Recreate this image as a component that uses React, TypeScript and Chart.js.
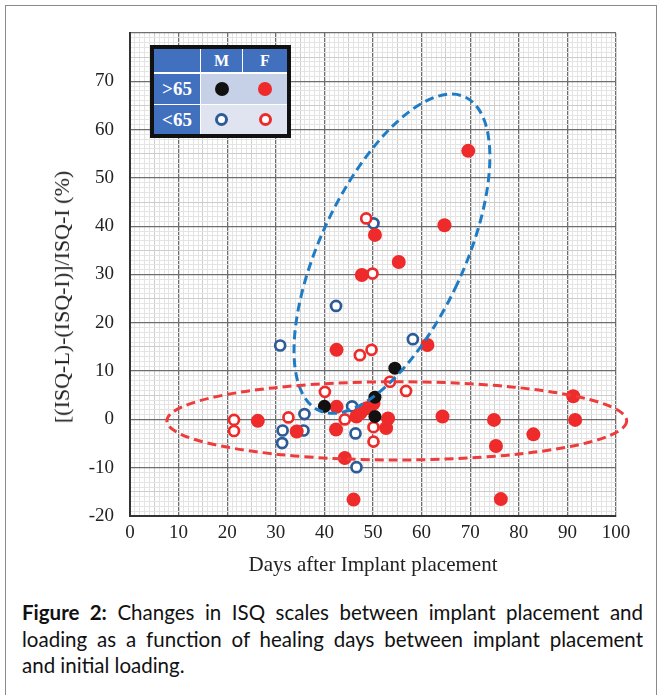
import React, { useEffect, useRef } from 'react';
import { Chart, registerables } from 'chart.js';

Chart.register(...registerables);

// ---- data ----
const femaleOver65X = [69.6, 64.7, 55.3, 50.4, 47.7, 42.5, 61.2, 64.3, 74.9, 75.3, 83.0, 91.2, 91.6, 76.3, 46.0, 44.2, 26.3, 34.3, 42.5, 42.4, 46.6, 47.4, 48.7, 50.1, 53.1, 52.7];
const femaleOver65Y = [55.6, 40.2, 32.6, 38.2, 29.9, 14.4, 15.4, 0.6, -0.1, -5.5, -3.1, 4.8, -0.1, -16.5, -16.6, -8.0, -0.3, -2.5, 2.6, -2.1, 0.6, 1.3, 2.3, 3.3, 0.2, -1.8];

const maleOver65X = [54.5, 50.4, 50.4, 40.0];
const maleOver65Y = [10.6, 4.6, 0.6, 2.7];

const maleUnder65X = [50.1, 42.4, 30.9, 58.2, 45.7, 46.4, 46.6, 35.9, 35.7, 31.4, 31.3];
const maleUnder65Y = [40.6, 23.5, 15.3, 16.6, 2.7, -2.9, -9.9, 1.1, -2.3, -2.3, -4.9];

const femaleUnder65X = [48.6, 49.9, 47.3, 49.7, 53.5, 56.8, 40.1, 44.2, 50.1, 50.1, 32.6, 21.4, 21.4];
const femaleUnder65Y = [41.6, 30.2, 13.3, 14.4, 7.8, 5.9, 5.7, 0.0, -1.6, -4.6, 0.4, -0.1, -2.4];

const xTickLabels = [0, 10, 20, 30, 40, 50, 60, 70, 80, 90, 100];
const yTickLabels = [-20, -10, 0, 10, 20, 30, 40, 50, 60, 70];

// ellipses (data units): centre x, centre y, radius x, radius y, rotation in degrees
const ellipseCx = [53.9, 54.9];
const ellipseCy = [34.3, -0.3];
const ellipseRx = [14.8, 47.3];
const ellipseRy = [35.8, 8.1];
const ellipseAngle = [25, 0];
const ellipseColors = ['#1f7cc4', '#ee3b3b'];

const toPoints = (xs: number[], ys: number[]) => xs.map((x, i) => ({ x, y: ys[i] }));

const RED = '#ee2a2a';
const BLUE = '#2d5b98';

const ellipsePlugin = {
  id: 'ellipses',
  afterDatasetsDraw(chart: any) {
    const { ctx } = chart;
    const xs = chart.scales.x;
    const ys = chart.scales.y;
    const pxX = Math.abs(xs.getPixelForValue(1) - xs.getPixelForValue(0));
    const pxY = Math.abs(ys.getPixelForValue(1) - ys.getPixelForValue(0));
    ellipseCx.forEach((cx, i) => {
      ctx.save();
      ctx.beginPath();
      ctx.ellipse(
        xs.getPixelForValue(cx),
        ys.getPixelForValue(ellipseCy[i]),
        ellipseRx[i] * pxX,
        ellipseRy[i] * pxY,
        (ellipseAngle[i] * Math.PI) / 180,
        0,
        Math.PI * 2
      );
      ctx.setLineDash([9, 5]);
      ctx.lineWidth = 3;
      ctx.strokeStyle = ellipseColors[i];
      ctx.stroke();
      ctx.restore();
    });
  },
};

const gridColor = (ctx: any) => {
  const v = ctx.tick ? Math.round(ctx.tick.value) : 0;
  if (v % 10 === 0) return '#6e6e6e';
  if (v % 5 === 0) return '#cdcdcd';
  return '#e4e4e4';
};
const gridWidth = (ctx: any) => {
  const v = ctx.tick ? Math.round(ctx.tick.value) : 0;
  if (v % 10 === 0) return 1.3;
  return 1;
};

function ScatterChart() {
  const ref = useRef<HTMLCanvasElement | null>(null);
  useEffect(() => {
    if (!ref.current) return;
    const chart = new Chart(ref.current, {
      type: 'scatter',
      data: {
        datasets: [
          {
            label: 'F >65',
            data: toPoints(femaleOver65X, femaleOver65Y),
            backgroundColor: RED,
            borderColor: RED,
            borderWidth: 0,
            pointRadius: 7,
            order: 1,
          },
          {
            label: 'M >65',
            data: toPoints(maleOver65X, maleOver65Y),
            backgroundColor: '#111',
            borderColor: '#111',
            borderWidth: 0,
            pointRadius: 6.5,
            order: 0,
          },
          {
            label: 'F <65',
            data: toPoints(femaleUnder65X, femaleUnder65Y),
            backgroundColor: '#fff',
            borderColor: RED,
            borderWidth: 2.7,
            pointRadius: 5,
            order: 2,
          },
          {
            label: 'M <65',
            data: toPoints(maleUnder65X, maleUnder65Y),
            backgroundColor: '#fff',
            borderColor: BLUE,
            borderWidth: 2.7,
            pointRadius: 5,
            order: 3,
          },
        ],
      },
      options: {
        animation: false,
        responsive: false,
        maintainAspectRatio: false,
        layout: { padding: { left: 0, top: 33, right: 47, bottom: 0 } },
        plugins: { legend: { display: false }, tooltip: { enabled: false } },
        scales: {
          x: {
            type: 'linear',
            min: 0,
            max: 100,
            afterFit: (s: any) => {
              s.height = 74;
            },
            ticks: {
              stepSize: 1,
              autoSkip: false,
              maxRotation: 0,
              minRotation: 0,
              padding: 6,
              color: '#222',
              font: { family: '"Liberation Serif", "DejaVu Serif", serif', size: 19 },
              callback: (v: any) => (xTickLabels.includes(Number(v)) ? String(v) : ''),
            },
            grid: { color: gridColor, lineWidth: gridWidth, drawTicks: false },
            border: { display: true, color: '#333', width: 2 },
            title: {
              display: true,
              text: 'Days after Implant placement',
              color: '#222',
              font: { family: '"Liberation Serif", "DejaVu Serif", serif', size: 21 },
              padding: { top: 0, bottom: 12 },
            },
          },
          y: {
            type: 'linear',
            min: -20,
            max: 80,
            afterFit: (s: any) => {
              s.width = 130;
            },
            ticks: {
              stepSize: 1,
              autoSkip: false,
              padding: 16,
              color: '#222',
              font: { family: '"Liberation Serif", "DejaVu Serif", serif', size: 19 },
              callback: (v: any) => (yTickLabels.includes(Number(v)) ? String(v) : ''),
            },
            grid: { color: gridColor, lineWidth: gridWidth, drawTicks: false },
            border: { display: true, color: '#333', width: 2 },
          },
        },
      },
      plugins: [ellipsePlugin],
    } as any);
    return () => chart.destroy();
  }, []);
  return <canvas ref={ref} width={663} height={590} style={{ position: 'absolute', left: 0, top: 0, width: 663, height: 590 }} />;
}

const serif = '"Liberation Serif", "DejaVu Serif", serif';
const headBlue = '#4170bf';

function Dot({ color, open }: { color: string; open?: boolean }) {
  const size = open ? 13 : 14;
  return (
    <span
      style={{
        display: 'inline-block',
        width: size,
        height: size,
        borderRadius: '50%',
        boxSizing: 'border-box',
        background: open ? '#fff' : color,
        border: open ? `3px solid ${color}` : 'none',
      }}
    />
  );
}

function Cell({ left, top, width, height, bg, children }: any) {
  return (
    <div
      style={{
        position: 'absolute',
        left,
        top,
        width,
        height,
        background: bg,
        display: 'flex',
        alignItems: 'center',
        justifyContent: 'center',
        color: '#fff',
        fontFamily: serif,
        fontWeight: 'bold',
      }}
    >
      {children}
    </div>
  );
}

function LegendTable() {
  return (
    <div
      style={{
        position: 'absolute',
        left: 150,
        top: 45,
        width: 141,
        height: 93,
        border: '4px solid #111',
        boxSizing: 'border-box',
        background: '#fff',
      }}
    >
      <Cell left={0} top={0} width={46} height={23} bg={headBlue} />
      <Cell left={47} top={0} width={41} height={23} bg={headBlue}>
        <span style={{ fontSize: 16 }}>M</span>
      </Cell>
      <Cell left={89} top={0} width={44} height={23} bg={headBlue}>
        <span style={{ fontSize: 16 }}>F</span>
      </Cell>
      <Cell left={0} top={25} width={46} height={30} bg={headBlue}>
        <span style={{ fontSize: 19 }}>&gt;65</span>
      </Cell>
      <Cell left={47} top={25} width={86} height={30} bg="#c6d0e6" />
      <Cell left={47} top={25} width={41} height={30} bg="transparent">
        <Dot color="#111" />
      </Cell>
      <Cell left={89} top={25} width={44} height={30} bg="transparent">
        <Dot color={RED} />
      </Cell>
      <Cell left={0} top={56} width={46} height={29} bg={headBlue}>
        <span style={{ fontSize: 19 }}>&lt;65</span>
      </Cell>
      <Cell left={47} top={56} width={86} height={29} bg="#dfe4f0" />
      <Cell left={47} top={56} width={41} height={29} bg="transparent">
        <Dot color={BLUE} open />
      </Cell>
      <Cell left={89} top={56} width={44} height={29} bg="transparent">
        <Dot color={RED} open />
      </Cell>
    </div>
  );
}

export default function App() {
  useEffect(() => {
    document.body.style.margin = '0';
  }, []);
  const captionFont = 'Lato, "Open Sans", "Noto Sans", sans-serif';
  const lineStyle: React.CSSProperties = {
    textAlign: 'justify',
    textAlignLast: 'justify' as any,
    height: 26.5,
  };
  return (
    <div style={{ position: 'relative', width: 663, height: 695, overflow: 'hidden', background: '#fff' }}>
      <div
        style={{
          position: 'absolute',
          left: 5,
          top: 5,
          width: 652,
          height: 720,
          border: '1.5px solid #8a8a8a',
          boxSizing: 'border-box',
        }}
      />
      <ScatterChart />
      <div
        style={{
          position: 'absolute',
          left: 62,
          top: 297,
          transform: 'translate(-50%, -50%) rotate(-90deg)',
          whiteSpace: 'nowrap',
          fontFamily: serif,
          fontSize: 22,
          color: '#222',
        }}
      >
        [(ISQ-L)-(ISQ-I)]/ISQ-I (%)
      </div>
      <LegendTable />
      <div
        style={{
          position: 'absolute',
          left: 22,
          top: 599,
          width: 621,
          fontFamily: captionFont,
          fontSize: 20.5,
          lineHeight: '26.5px',
          color: '#111',
        }}
      >
        <div style={lineStyle}>
          <b>Figure 2:</b> Changes in ISQ scales between implant placement and
        </div>
        <div style={lineStyle}>loading as a function of healing days between implant placement</div>
        <div>and initial loading.</div>
      </div>
    </div>
  );
}
